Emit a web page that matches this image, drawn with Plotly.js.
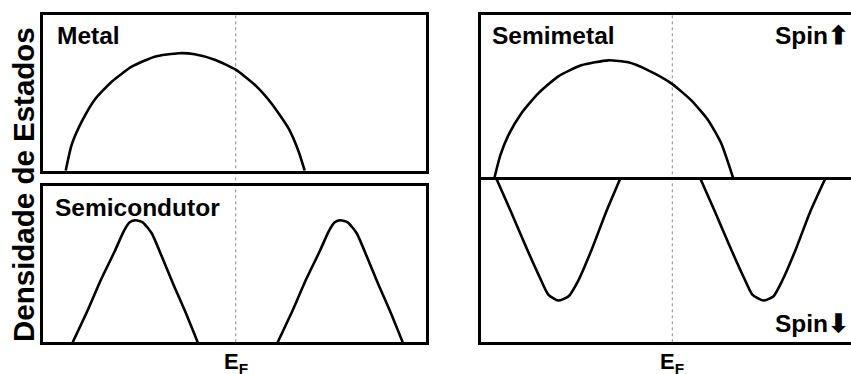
<!DOCTYPE html>
<html>
<head>
<meta charset="utf-8">
<script src="https://cdn.plot.ly/plotly-3.0.1.min.js"></script>
<style>html,body{margin:0;padding:0;background:#fff;}#chart{width:851px;height:374px;}</style>
</head>
<body>
<div id="chart"></div>
<script>
// Energy relative to E_F (arbitrary units), density of states (arbitrary units)
const energyMetal = [-1.70, -1.64, -1.54, -1.41, -1.24, -1.04, -0.81, -0.57, -0.41, -0.21, 0.00, 0.19, 0.36, 0.53, 0.63, 0.69];
const dosMetal    = [0, 0.26, 0.49, 0.71, 0.89, 1.04, 1.14, 1.175, 1.165, 1.11, 1.01, 0.86, 0.67, 0.42, 0.19, 0];

const energySemiValence = [-1.63, -1.48, -1.35, -1.21, -1.12, -1.06, -1.00, -0.93, -0.84, -0.74, -0.62, -0.51, -0.38];
const dosSemiValence    = [0, 0.32, 0.62, 0.91, 1.11, 1.20, 1.22, 1.20, 1.09, 0.86, 0.57, 0.32, 0];
const energySemiConduction = [0.42, 0.57, 0.70, 0.84, 0.93, 0.99, 1.05, 1.12, 1.21, 1.31, 1.43, 1.54, 1.67];
const dosSemiConduction    = [0, 0.32, 0.62, 0.91, 1.11, 1.20, 1.22, 1.20, 1.09, 0.86, 0.57, 0.32, 0];

const energySpinUp = [-1.78, -1.72, -1.64, -1.51, -1.34, -1.14, -0.91, -0.64, -0.44, -0.24, -0.01, 0.19, 0.36, 0.49, 0.61];
const dosSpinUp    = [0, 0.23, 0.43, 0.65, 0.85, 1.02, 1.13, 1.18, 1.16, 1.08, 0.95, 0.78, 0.58, 0.35, 0];

const energySpinDownA = [-1.76, -1.61, -1.46, -1.32, -1.24, -1.14, -1.04, -0.94, -0.81, -0.66, -0.52];
const dosSpinDownA    = [0, -0.34, -0.69, -1.00, -1.16, -1.22, -1.18, -1.02, -0.72, -0.33, 0];
const energySpinDownB = [0.28, 0.43, 0.58, 0.72, 0.80, 0.91, 1.01, 1.10, 1.23, 1.38, 1.53];
const dosSpinDownB    = [0, -0.34, -0.69, -1.00, -1.16, -1.22, -1.18, -1.02, -0.72, -0.33, 0];

const panelLabels = ['Metal', 'Semicondutor', 'Semimetal'];
const spinLabels = ['Spin⬆', 'Spin⬇'];
const yAxisLabel = 'Densidade de Estados';
const fermiLabel = 'E<sub>F</sub>';

const W = 851, H = 374;
const px = v => v / W;
const py = v => 1 - v / H;

const lineStyle = {color: '#000', width: 2.6, shape: 'spline', smoothing: 0.55};
function tr(x, y, xa, ya) {
  return {x: x, y: y, xaxis: xa, yaxis: ya, type: 'scatter', mode: 'lines', line: lineStyle, hoverinfo: 'skip', showlegend: false};
}
const data = [
  tr(energyMetal, dosMetal, 'x', 'y'),
  tr(energySemiValence, dosSemiValence, 'x2', 'y2'),
  tr(energySemiConduction, dosSemiConduction, 'x2', 'y2'),
  tr(energySpinUp, dosSpinUp, 'x3', 'y3'),
  tr(energySpinDownA, dosSpinDownA, 'x3', 'y3'),
  tr(energySpinDownB, dosSpinDownB, 'x3', 'y3')
];

const frame = {showline: true, linecolor: '#000', linewidth: 3, mirror: true, showgrid: false, zeroline: false, showticklabels: false, ticks: '', fixedrange: true};
const leftX = [-1.927, 1.903];
const rightX = [-1.913, 1.787];
const font = {family: 'Liberation Sans, Arial, sans-serif', color: '#000', size: 24.5, weight: 700};

const layout = {
  width: W, height: H,
  margin: {l: 0, r: 0, t: 0, b: 0},
  paper_bgcolor: '#fff', plot_bgcolor: 'rgba(0,0,0,0)',
  showlegend: false,
  xaxis:  Object.assign({}, frame, {domain: [px(43), px(426)], range: leftX, anchor: 'y'}),
  yaxis:  Object.assign({}, frame, {domain: [py(170.7), py(14.7)], range: [0, 1.56], anchor: 'x'}),
  xaxis2: Object.assign({}, frame, {domain: [px(43), px(426)], range: leftX, anchor: 'y2'}),
  yaxis2: Object.assign({}, frame, {domain: [py(342.3), py(186)], range: [0, 1.563], anchor: 'x2'}),
  xaxis3: Object.assign({}, frame, {domain: [px(481), 1], range: rightX, anchor: 'y3'}),
  yaxis3: Object.assign({}, frame, {domain: [py(342.3), py(14.7)], range: [-1.637, 1.636], anchor: 'x3', mirror: false,
            zeroline: true, zerolinecolor: '#000', zerolinewidth: 3}),
  shapes: [
    {type: 'line', xref: 'x', yref: 'paper', x0: 0, x1: 0, y0: py(342.3), y1: py(14.7), layer: 'below',
     line: {color: '#8a8a8a', width: 1, dash: 'dot'}},
    {type: 'line', xref: 'x3', yref: 'paper', x0: 0, x1: 0, y0: py(342.3), y1: py(14.7), layer: 'below',
     line: {color: '#8a8a8a', width: 1, dash: 'dot'}}
  ],
  annotations: [
    {text: panelLabels[0], xref: 'paper', yref: 'paper', x: px(55), y: py(36), xanchor: 'left', yanchor: 'middle', showarrow: false, font: font},
    {text: panelLabels[1], xref: 'paper', yref: 'paper', x: px(53), y: py(207), xanchor: 'left', yanchor: 'middle', showarrow: false, font: font},
    {text: panelLabels[2], xref: 'paper', yref: 'paper', x: px(490), y: py(36), xanchor: 'left', yanchor: 'middle', showarrow: false, font: font},
    {text: spinLabels[0], xref: 'paper', yref: 'paper', x: 1, y: py(35), xanchor: 'right', yanchor: 'middle', showarrow: false, font: font},
    {text: spinLabels[1], xref: 'paper', yref: 'paper', x: 1, y: py(323), xanchor: 'right', yanchor: 'middle', showarrow: false, font: font},
    {text: yAxisLabel, xref: 'paper', yref: 'paper', x: px(23), y: py(185), xanchor: 'center', yanchor: 'middle', textangle: -90, showarrow: false,
     font: Object.assign({}, font, {size: 29.5})},
    {text: fermiLabel, xref: 'x', yref: 'paper', x: 0, y: py(347), xanchor: 'center', yanchor: 'top', showarrow: false,
     font: Object.assign({}, font, {size: 22})},
    {text: fermiLabel, xref: 'x3', yref: 'paper', x: 0, y: py(347), xanchor: 'center', yanchor: 'top', showarrow: false,
     font: Object.assign({}, font, {size: 22})}
  ]
};

Plotly.newPlot('chart', data, layout, {displayModeBar: false, staticPlot: true});
</script>
</body>
</html>
